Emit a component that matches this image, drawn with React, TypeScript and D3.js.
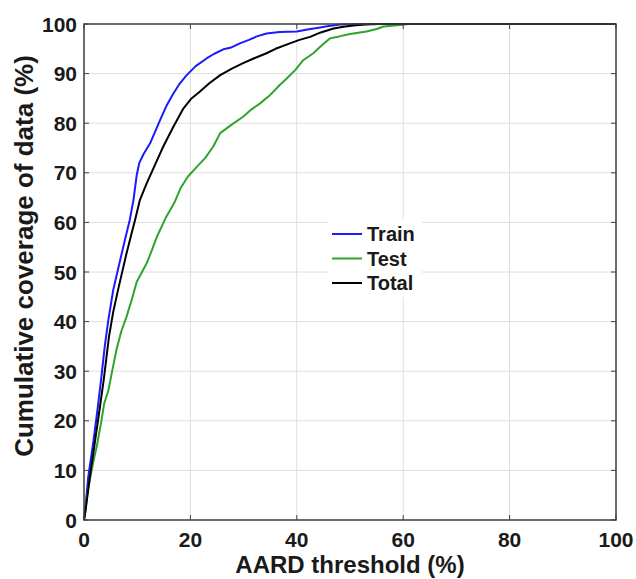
import React from "react";
import * as d3 from "d3";

// Cumulative coverage curves: [AARD threshold (%), coverage (%)]
const trainCurve: [number, number][] = [
  [0, 0], [0.3, 3], [0.8, 8.7], [1.8, 16.1], [2.6, 22.8], [3.2, 28.2], [3.9, 35], [4.6, 40.5],
  [5.5, 46.4], [6.8, 52.4], [7.7, 56.5], [8.6, 60.5], [9.3, 64.5], [9.9, 69.5], [10.4, 72],
  [11.2, 73.8], [12.4, 75.9], [14.3, 80.6], [15.5, 83.5], [16.8, 86], [18, 88], [19.3, 89.7],
  [21, 91.5], [23.1, 93.1], [24.5, 94], [26.2, 94.9], [27.5, 95.2], [29.3, 96.1], [31, 96.8],
  [32.5, 97.5], [34.3, 98.1], [36.8, 98.4], [40, 98.5], [42, 98.9], [44.4, 99.3], [46, 99.6],
  [48.1, 99.9], [52, 100], [100, 100],
];

const testCurve: [number, number][] = [
  [0, 0], [0.2, 1.4], [0.6, 5], [1.1, 8.1], [1.8, 12], [2.4, 14.8], [3.3, 20.2], [3.8, 23.5],
  [4.6, 26.2], [5.2, 29.5], [6.1, 34.3], [7.0, 38], [8.0, 41], [9.0, 44.5], [9.9, 48], [11.8, 51.8],
  [12.8, 54.5], [13.7, 57.1], [15.5, 61.2], [17, 64], [18.2, 67], [19.5, 69.2], [21.2, 71.2],
  [22.8, 73], [24.3, 75.3], [25.6, 78], [27.5, 79.5], [29.9, 81.3], [31.5, 82.8], [33.1, 84],
  [35, 85.7], [36.8, 87.7], [38.1, 89], [39.7, 90.7], [41.2, 92.7], [43.1, 94.1], [44.5, 95.5],
  [46.2, 97.1], [48, 97.5], [50, 98], [53.1, 98.5], [55, 99], [56.3, 99.5], [59.4, 99.8],
  [61, 100], [100, 100],
];

const totalCurve: [number, number][] = [
  [0, 0], [0.3, 2], [1.1, 8.7], [2.1, 16.1], [3.0, 22.8], [3.7, 28.2], [4.7, 37], [5.5, 42],
  [6.4, 46.4], [8.0, 53.8], [9.0, 58], [9.6, 60.5], [10.5, 64.5], [11.8, 67.9], [13.3, 71.5],
  [14.9, 75.3], [16.8, 79.3], [18.7, 83], [20.2, 85], [21.8, 86.4], [23.5, 88], [25.6, 89.7],
  [27.8, 91], [29.9, 92.1], [32, 93.1], [34.3, 94.1], [36, 95], [38.7, 96.1], [40.5, 96.8],
  [42.5, 97.4], [44.5, 98.3], [46.9, 99.1], [48.5, 99.4], [50.6, 99.7], [53, 99.9], [55.6, 100],
  [100, 100],
];

const xTicks = [0, 20, 40, 60, 80, 100];
const yTicks = [0, 10, 20, 30, 40, 50, 60, 70, 80, 90, 100];

const seriesNames = ["Train", "Test", "Total"];
const seriesColors = ["#1a1aff", "#2ea32e", "#000000"];
const seriesData = [trainCurve, testCurve, totalCurve];

const W = 636;
const H = 579;
const left = 84;
const right = 616;
const top = 24;
const bottom = 520;

const FONT = "'Liberation Sans', Arial, sans-serif";

export default function App() {
  const x = d3.scaleLinear().domain([0, 100]).range([left, right]);
  const y = d3.scaleLinear().domain([0, 100]).range([bottom, top]);
  const line = d3
    .line<[number, number]>()
    .x((d) => x(d[0]))
    .y((d) => y(d[1]));

  const legX = 328;
  const legY = 219;
  const legRow = 24.5;

  return (
    <svg
      width={W}
      height={H}
      style={{ position: "absolute", left: 0, top: 0, background: "#fff" }}
      fontFamily={FONT}
      fontWeight="bold"
    >
      <rect x={0} y={0} width={W} height={H} fill="#fff" />
      {/* grid */}
      {xTicks.map((t) => (
        <line key={"gx" + t} x1={x(t)} x2={x(t)} y1={top} y2={bottom} stroke="#dedede" strokeWidth={1} />
      ))}
      {yTicks.map((t) => (
        <line key={"gy" + t} x1={left} x2={right} y1={y(t)} y2={y(t)} stroke="#dedede" strokeWidth={1} />
      ))}
      {/* curves */}
      {seriesData.map((d, i) => (
        <path key={seriesNames[i]} d={line(d) || ""} fill="none" stroke={seriesColors[i]} strokeWidth={2} strokeLinejoin="round" />
      ))}
      {/* inner ticks */}
      {xTicks.map((t) => (
        <g key={"tx" + t}>
          <line x1={x(t)} x2={x(t)} y1={bottom} y2={bottom - 5} stroke="#404040" strokeWidth={1} />
          <line x1={x(t)} x2={x(t)} y1={top} y2={top + 5} stroke="#404040" strokeWidth={1} />
        </g>
      ))}
      {yTicks.map((t) => (
        <g key={"ty" + t}>
          <line x1={left} x2={left + 5} y1={y(t)} y2={y(t)} stroke="#404040" strokeWidth={1} />
          <line x1={right} x2={right - 5} y1={y(t)} y2={y(t)} stroke="#404040" strokeWidth={1} />
        </g>
      ))}
      {/* axes box */}
      <rect x={left} y={top} width={right - left} height={bottom - top} fill="none" stroke="#404040" strokeWidth={1.5} />
      {/* tick labels */}
      {xTicks.map((t) => (
        <text key={"lx" + t} x={x(t)} y={547} textAnchor="middle" fontSize={21} fill="#1a1a1a">
          {t}
        </text>
      ))}
      {yTicks.map((t) => (
        <text key={"ly" + t} x={77} y={y(t) + 7.5} textAnchor="end" fontSize={21} fill="#1a1a1a">
          {t}
        </text>
      ))}
      {/* axis titles */}
      <text x={350} y={573} textAnchor="middle" fontSize={24} fill="#1a1a1a">
        AARD threshold (%)
      </text>
      <text
        transform={`translate(33, 256) rotate(-90)`}
        textAnchor="middle"
        fontSize={26}
        fill="#1a1a1a"
      >
        Cumulative coverage of data (%)
      </text>
      {/* legend */}
      <rect x={legX} y={legY} width={94} height={78} fill="#fff" />
      {seriesNames.map((n, i) => (
        <g key={"leg" + n}>
          <line
            x1={legX + 4}
            x2={legX + 34}
            y1={legY + 15 + i * legRow}
            y2={legY + 15 + i * legRow}
            stroke={seriesColors[i]}
            strokeWidth={2}
          />
          <text x={legX + 39} y={legY + 22 + i * legRow} fontSize={20} fill="#1a1a1a">
            {n}
          </text>
        </g>
      ))}
    </svg>
  );
}
